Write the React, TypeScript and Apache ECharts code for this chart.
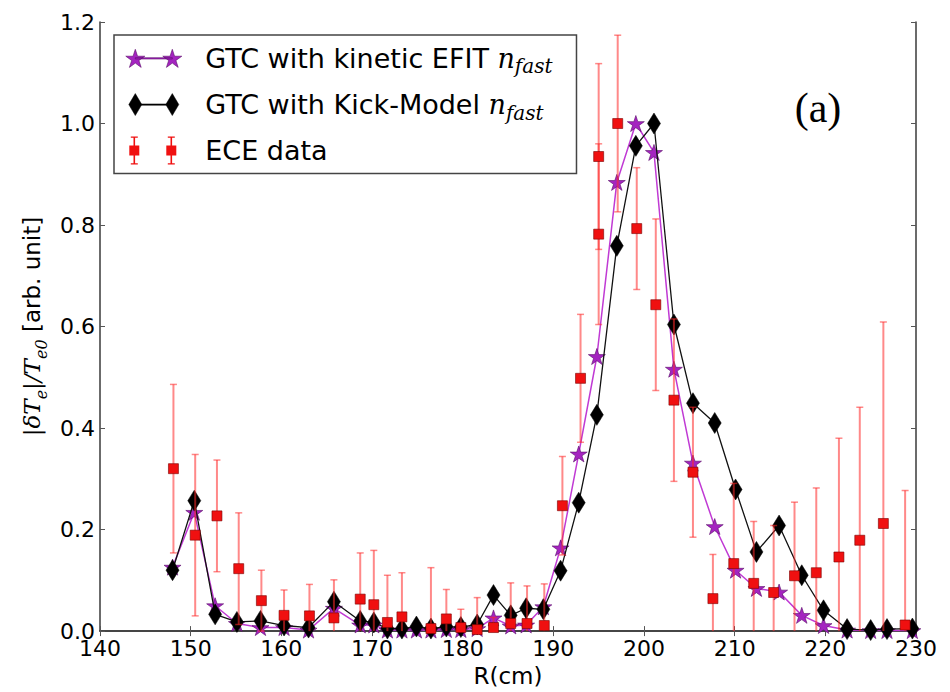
import React, { useEffect, useRef } from "react";
import * as echarts from "echarts";

// ---- data ----
const xTicks = [140, 150, 160, 170, 180, 190, 200, 210, 220, 230];
const yTicks = [0, 0.2, 0.4, 0.6, 0.8, 1.0, 1.2];

const gtcR = [148.0, 150.4, 152.7, 155.1, 157.7, 160.3, 163.0, 165.8, 168.7, 170.2,
  171.7, 173.3, 174.9, 176.5, 178.2, 179.8, 181.6, 183.4, 185.3, 187.0,
  188.9, 190.8, 192.8, 194.8, 197.0, 199.1, 201.1, 203.3, 205.4, 207.8,
  210.1, 212.4, 214.9, 217.4, 219.8, 222.4, 225.0, 226.8, 229.6];

const efitVal = [0.126, 0.234, 0.050, 0.015, 0.007, 0.007, 0.002, 0.045, 0.012, 0.012,
  0.002, 0.002, 0.002, 0.002, 0.003, 0.003, 0.005, 0.026, 0.010, 0.012,
  0.048, 0.164, 0.349, 0.541, 0.884, 1.000, 0.943, 0.516, 0.331, 0.206,
  0.120, 0.084, 0.077, 0.031, 0.011, 0.002, 0.001, 0.001, 0.001];

const kickVal = [0.120, 0.257, 0.033, 0.018, 0.020, 0.011, 0.007, 0.058, 0.020, 0.017,
  0.005, 0.005, 0.009, 0.005, 0.009, 0.008, 0.013, 0.071, 0.031, 0.045,
  0.043, 0.119, 0.253, 0.426, 0.759, 0.956, 1.000, 0.604, 0.449, 0.410,
  0.279, 0.156, 0.208, 0.110, 0.041, 0.004, 0.002, 0.004, 0.005];

const eceR = [148.1, 150.5, 152.9, 155.3, 157.8, 160.3, 163.1, 165.8, 168.7, 170.2,
  171.7, 173.3, 176.5, 178.2, 179.8, 181.6, 183.4, 185.3, 187.1, 189.0,
  191.0, 193.0, 195.0, 195.0, 197.1, 199.2, 201.3, 203.3, 205.4, 207.6,
  209.9, 212.1, 214.3, 216.6, 219.0, 221.5, 223.8, 226.4, 228.8];

const eceVal = [0.320, 0.189, 0.227, 0.123, 0.060, 0.031, 0.030, 0.026, 0.063, 0.052,
  0.017, 0.028, 0.005, 0.024, 0.007, 0.003, 0.007, 0.015, 0.015, 0.011,
  0.247, 0.498, 0.935, 0.782, 1.000, 0.793, 0.643, 0.455, 0.313, 0.064,
  0.133, 0.094, 0.076, 0.109, 0.115, 0.146, 0.179, 0.212, 0.012];

const eceErr = [0.166, 0.159, 0.110, 0.110, 0.060, 0.050, 0.062, 0.075, 0.091, 0.107,
  0.093, 0.087, 0.120, 0.058, 0.036, 0.063, 0.020, 0.080, 0.074, 0.082,
  0.097, 0.126, 0.183, 0.178, 0.174, 0.120, 0.169, 0.160, 0.128, 0.087,
  0.158, 0.122, 0.132, 0.145, 0.167, 0.234, 0.262, 0.397, 0.265];

const seriesNames = [
  "GTC with kinetic EFIT",
  "GTC with Kick-Model",
  "ECE data",
];

// ---- marker geometry helpers ----
function starPath(cx: number, cy: number, r: number): string {
  const ri = r * 0.381966;
  const pts: string[] = [];
  for (let k = 0; k < 10; k++) {
    const ang = -Math.PI / 2 + (k * Math.PI) / 5;
    const rr = k % 2 === 0 ? r : ri;
    pts.push(`${(cx + rr * Math.cos(ang)).toFixed(2)},${(cy + rr * Math.sin(ang)).toFixed(2)}`);
  }
  return "M" + pts.join(" L") + " Z ";
}
function diamondPath(cx: number, cy: number, w: number, h: number): string {
  return `M${cx},${cy - h / 2} L${cx + w / 2},${cy} L${cx},${cy + h / 2} L${cx - w / 2},${cy} Z `;
}
function rectPath(x: number, y: number, w: number, h: number): string {
  return `M${x},${y} L${x + w},${y} L${x + w},${y + h} L${x},${y + h} Z `;
}

const STAR_SYMBOL = "path://" + starPath(50, 50, 50);
const BOX = "M0,0 M78,28 ";
const starIcon = "path://" + BOX + rectPath(13, 13.4, 37, 1.3) + starPath(13, 15, 10) + starPath(50, 15, 10);
const diamondIcon = "path://" + BOX + rectPath(13, 13.4, 37, 1.3) + diamondPath(13, 14, 13, 22) + diamondPath(50, 14, 13, 22);
const eceIcon = "path://" + BOX +
  rectPath(11.2, 0, 1.6, 28) + rectPath(8.5, 0, 7, 1.2) + rectPath(8.5, 26.8, 7, 1.2) + rectPath(7, 9, 10, 10) +
  rectPath(48.2, 0, 1.6, 28) + rectPath(45.5, 0, 7, 1.2) + rectPath(45.5, 26.8, 7, 1.2) + rectPath(44, 9, 10, 10);

const STAR_FILL = "#a424c0";
const STAR_LINE = "#c03ad4";
const ERR_COLOR = "rgba(255,40,40,0.55)";

export default function App() {
  const ref = useRef<HTMLDivElement>(null);

  useEffect(() => {
    if (!ref.current) return;
    const chart = echarts.init(ref.current, undefined, { renderer: "svg" });

    const efitData = gtcR.map((r, i) => [r, efitVal[i]]);
    const kickData = gtcR.map((r, i) => [r, kickVal[i]]);
    const eceData = eceR.map((r, i) => [r, eceVal[i]]);
    const errData = eceR.map((r, i) => [r, eceVal[i] - eceErr[i], eceVal[i] + eceErr[i]]);

    const axisLineStyle = { color: "#3a3a3a", width: 1.5 };
    const tickStyle = { show: true, inside: true, length: 5, lineStyle: { color: "#555", width: 1 } };
    const font = "DejaVu Sans";

    const mathRich = {
      m: { fontFamily: "DejaVu Serif", fontStyle: "italic" as const, fontSize: 23, lineHeight: 34, color: "#000" },
      s: { fontFamily: "DejaVu Serif", fontStyle: "italic" as const, fontSize: 16, lineHeight: 22, verticalAlign: "bottom" as const, color: "#000" },
      n: { fontFamily: font, fontSize: 23, lineHeight: 34, color: "#000" },
    };

    const option: any = {
      animation: false,
      backgroundColor: "#fff",
      grid: { left: 100, right: 34, top: 22, bottom: 59, containLabel: false },
      legend: {
        orient: "vertical",
        left: 114,
        top: 35,
        padding: [9, 24, 9, 8],
        itemGap: 14,
        itemWidth: 78,
        itemHeight: 28,
        borderColor: "#444",
        borderWidth: 1.5,
        backgroundColor: "#fff",
        borderRadius: 0,
        selectedMode: false,
        data: [
          { name: seriesNames[0], icon: starIcon, itemStyle: { color: STAR_FILL, borderColor: "#5a0c6a", borderWidth: 0.6 } },
          { name: seriesNames[1], icon: diamondIcon, itemStyle: { color: "#000", borderColor: "#000", borderWidth: 0.5 } },
          { name: seriesNames[2], icon: eceIcon, itemStyle: { color: "#f01010", borderColor: "#f01010", borderWidth: 0 } },
        ],
        formatter: (name: string) =>
          name === seriesNames[2] ? `{t|${name}}` : `{t|${name} }{i|n}{s|fast}`,
        textStyle: {
          fontFamily: font,
          fontSize: 27,
          color: "#000",
          rich: {
            t: { fontFamily: font, fontSize: 27, lineHeight: 36, color: "#000" },
            i: { fontFamily: "DejaVu Serif", fontStyle: "italic", fontSize: 27, lineHeight: 36, color: "#000" },
            s: { fontFamily: "DejaVu Serif", fontStyle: "italic", fontSize: 20, lineHeight: 22, verticalAlign: "bottom", color: "#000" },
          },
        },
        z: 20,
      },
      xAxis: [
        {
          type: "value",
          min: xTicks[0],
          max: xTicks[xTicks.length - 1],
          interval: 10,
          position: "bottom",
          name: "R(cm)",
          nameLocation: "middle",
          nameGap: 31,
          nameTextStyle: { fontFamily: font, fontSize: 23, color: "#000" },
          axisLine: { show: true, lineStyle: axisLineStyle },
          axisTick: tickStyle,
          axisLabel: { fontFamily: font, fontSize: 22, lineHeight: 18, color: "#000", margin: 8, showMinLabel: true, showMaxLabel: true },
          splitLine: { show: false },
        },
        {
          type: "value",
          min: xTicks[0],
          max: xTicks[xTicks.length - 1],
          interval: 10,
          position: "top",
          axisLine: { show: true, lineStyle: axisLineStyle },
          axisTick: tickStyle,
          axisLabel: { show: false },
          splitLine: { show: false },
        },
      ],
      yAxis: [
        {
          type: "value",
          min: yTicks[0],
          max: yTicks[yTicks.length - 1],
          interval: 0.2,
          position: "left",
          name: "{m||δT}{s|e}{m||/T}{s|e0}{n| [arb. unit]}",
          nameLocation: "middle",
          nameGap: 45,
          nameTextStyle: { fontFamily: font, fontSize: 23, color: "#000", rich: mathRich },
          axisLine: { show: true, lineStyle: axisLineStyle },
          axisTick: tickStyle,
          axisLabel: {
            fontFamily: font,
            fontSize: 22,
            lineHeight: 16,
            color: "#000",
            margin: 5,
            formatter: (v: number) => v.toFixed(1),
          },
          splitLine: { show: false },
        },
        {
          type: "value",
          min: yTicks[0],
          max: yTicks[yTicks.length - 1],
          interval: 0.2,
          position: "right",
          axisLine: { show: true, lineStyle: axisLineStyle },
          axisTick: tickStyle,
          axisLabel: { show: false },
          splitLine: { show: false },
        },
      ],
      series: [
        {
          name: seriesNames[0],
          type: "line",
          data: efitData,
          symbol: STAR_SYMBOL,
          symbolSize: [17, 16],
          lineStyle: { color: STAR_LINE, width: 1.5 },
          itemStyle: { color: STAR_FILL, borderColor: "#5a0c6a", borderWidth: 0.6 },
          z: 2,
          silent: true,
        },
        {
          name: seriesNames[1],
          type: "line",
          data: kickData,
          symbol: "diamond",
          symbolSize: [13, 21],
          lineStyle: { color: "#111", width: 1.3 },
          itemStyle: { color: "#000", borderColor: "#000", borderWidth: 0.5 },
          z: 3,
          silent: true,
        },
        {
          name: "ECE error",
          type: "custom",
          data: errData,
          encode: { x: 0, y: [1, 2] },
          z: 4,
          silent: true,
          renderItem: (params: any, api: any) => {
            const x = api.value(0);
            const loRaw = api.value(1);
            const lo = Math.max(loRaw, 0);
            const hi = api.value(2);
            const p1 = api.coord([x, lo]);
            const p2 = api.coord([x, hi]);
            const cap = 3.5;
            const st = { stroke: ERR_COLOR, lineWidth: 2 };
            const children: any[] = [
              { type: "line", shape: { x1: p1[0], y1: p1[1], x2: p2[0], y2: p2[1] }, style: st },
              { type: "line", shape: { x1: p2[0] - cap, y1: p2[1], x2: p2[0] + cap, y2: p2[1] }, style: { stroke: ERR_COLOR, lineWidth: 1.5 } },
            ];
            if (loRaw >= 0) {
              children.push({ type: "line", shape: { x1: p1[0] - cap, y1: p1[1], x2: p1[0] + cap, y2: p1[1] }, style: { stroke: ERR_COLOR, lineWidth: 1.5 } });
            }
            return { type: "group", children };
          },
        },
        {
          name: seriesNames[2],
          type: "scatter",
          data: eceData,
          symbol: "rect",
          symbolSize: 10,
          itemStyle: { color: "#f01010", borderColor: "#7a0000", borderWidth: 0.6, opacity: 1 },
          z: 5,
          silent: true,
        },
      ],
      graphic: [
        {
          type: "text",
          z: 30,
          style: {
            x: 818,
            y: 108,
            text: "(a)",
            align: "center",
            verticalAlign: "middle",
            fontFamily: "Liberation Serif",
            fontSize: 42,
            fill: "#000",
          },
        },
      ],
    };

    chart.setOption(option);
    return () => {
      chart.dispose();
    };
  }, []);

  return (
    <div
      ref={ref}
      style={{ position: "absolute", left: 0, top: 0, width: 950, height: 692, background: "#fff" }}
    />
  );
}
